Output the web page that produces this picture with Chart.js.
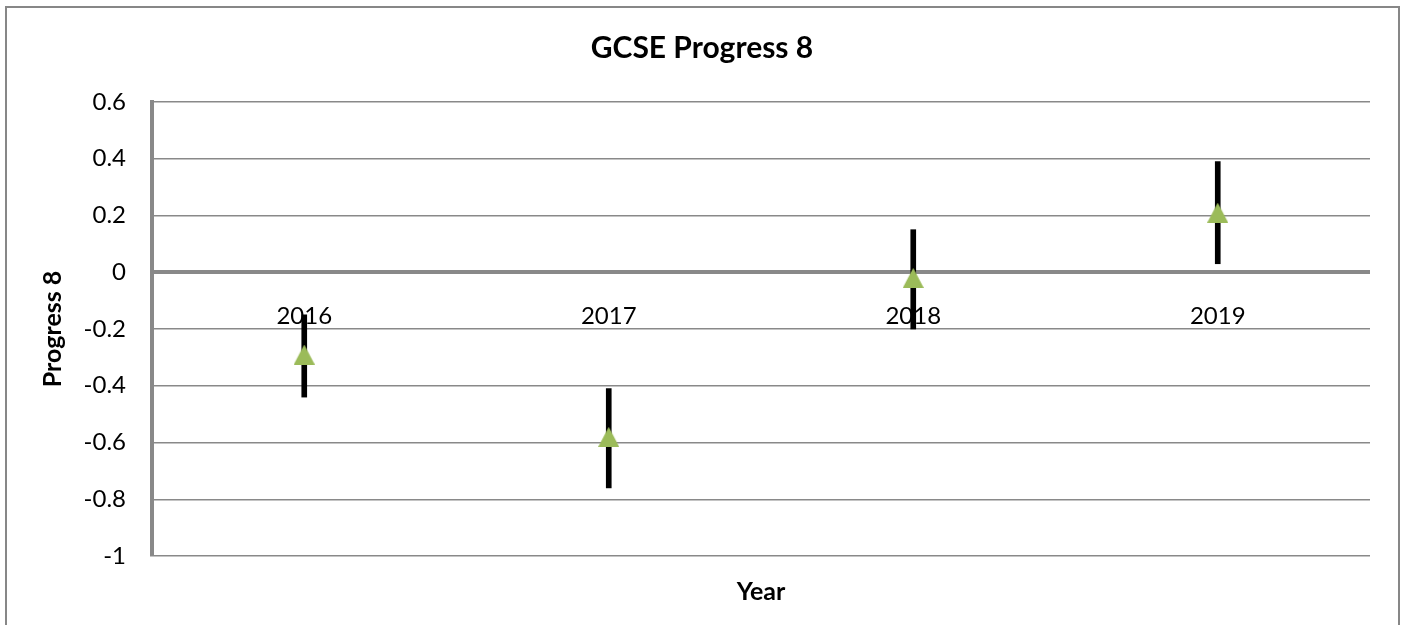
<!DOCTYPE html>
<html>
<head>
<meta charset="utf-8">
<script src="https://cdn.jsdelivr.net/npm/chart.js@4"></script>
<style>
  body { margin: 0; background: #fff; overflow: hidden; }
  #frame { position: absolute; left: 5px; top: 6px; width: 1391px; height: 700px; border: 2px solid #878787; }
  #chart { position: absolute; left: 0; top: 0; }
</style>
</head>
<body>
<div id="frame"></div>
<canvas id="chart" width="1404" height="625"></canvas>
<script>
// chart data
const years = ['2016', '2017', '2018', '2019'];
const progress8 = [-0.29, -0.58, -0.02, 0.21];
const ciLower = [-0.44, -0.76, -0.20, 0.03];
const ciUpper = [-0.15, -0.41, 0.15, 0.39];
const yMin = -1;
const yMax = 0.6;
const yStep = 0.2;

const gridGrey = '#898989';
const font = 'Lato';

// excel style triangle marker, centred on its bounding box
function makeTriangle(w, h, color) {
    const c = document.createElement('canvas');
    c.width = w;
    c.height = h;
    const g = c.getContext('2d');
    g.fillStyle = color;
    g.beginPath();
    g.moveTo(0, h);
    g.lineTo(w / 2, 0);
    g.lineTo(w, h);
    g.closePath();
    g.fill();
    return c;
}

window.onload = function() {
    const ctx = document.getElementById('chart').getContext('2d');
    const marker = makeTriangle(21, 20, '#9BBB59');
    new Chart(ctx, {
        data: {
            labels: years,
            datasets: [
                {
                    type: 'line',
                    label: 'Progress 8',
                    data: progress8,
                    showLine: false,
                    pointStyle: marker,
                    pointRadius: 10,
                    order: 0
                },
                {
                    type: 'bar',
                    label: 'Confidence interval',
                    data: years.map((y, i) => [ciLower[i], ciUpper[i]]),
                    backgroundColor: '#000',
                    borderWidth: 0,
                    barThickness: 5,
                    order: 1
                }
            ]
        },
        options: {
            responsive: false,
            animation: false,
            events: [],
            layout: { padding: { left: 34, right: 34, top: 0, bottom: 0 } },
            plugins: {
                legend: { display: false },
                tooltip: { enabled: false },
                title: {
                    display: true,
                    text: 'GCSE Progress 8',
                    color: '#000',
                    font: { family: font, size: 30, weight: 'bold' },
                    padding: { top: 30, bottom: 36 }
                }
            },
            scales: {
                x: {
                    type: 'category',
                    offset: true,
                    grid: { display: false },
                    border: { display: false },
                    ticks: { display: false },
                    title: {
                        display: true,
                        text: 'Year',
                        color: '#000',
                        font: { family: font, size: 25, weight: 'bold' },
                        padding: { top: 0, bottom: 18 }
                    },
                    afterFit: function(scale) { scale.height = 69; }
                },
                x2: {
                    type: 'category',
                    labels: years,
                    offset: true,
                    position: { y: 0 },
                    grid: { display: false },
                    border: { display: false },
                    ticks: {
                        color: '#000',
                        font: { family: font, size: 24 },
                        padding: 22,
                        maxRotation: 0
                    }
                },
                y: {
                    min: yMin,
                    max: yMax,
                    grid: {
                        color: gridGrey,
                        lineWidth: (c) => (c.tick && c.tick.value === 0 ? 4 : 1.5),
                        drawTicks: false
                    },
                    border: { display: true, color: gridGrey, width: 4 },
                    ticks: {
                        stepSize: yStep,
                        color: '#000',
                        font: { family: font, size: 24 },
                        padding: 26,
                        callback: (v) => String(Math.round(v * 10) / 10)
                    },
                    title: {
                        display: true,
                        text: 'Progress 8',
                        color: '#000',
                        font: { family: font, size: 25, weight: 'bold' },
                        padding: { top: 4, bottom: 0 }
                    },
                    afterFit: function(scale) { scale.width = 118; }
                }
            }
        }
    });
};
</script>
</body>
</html>
